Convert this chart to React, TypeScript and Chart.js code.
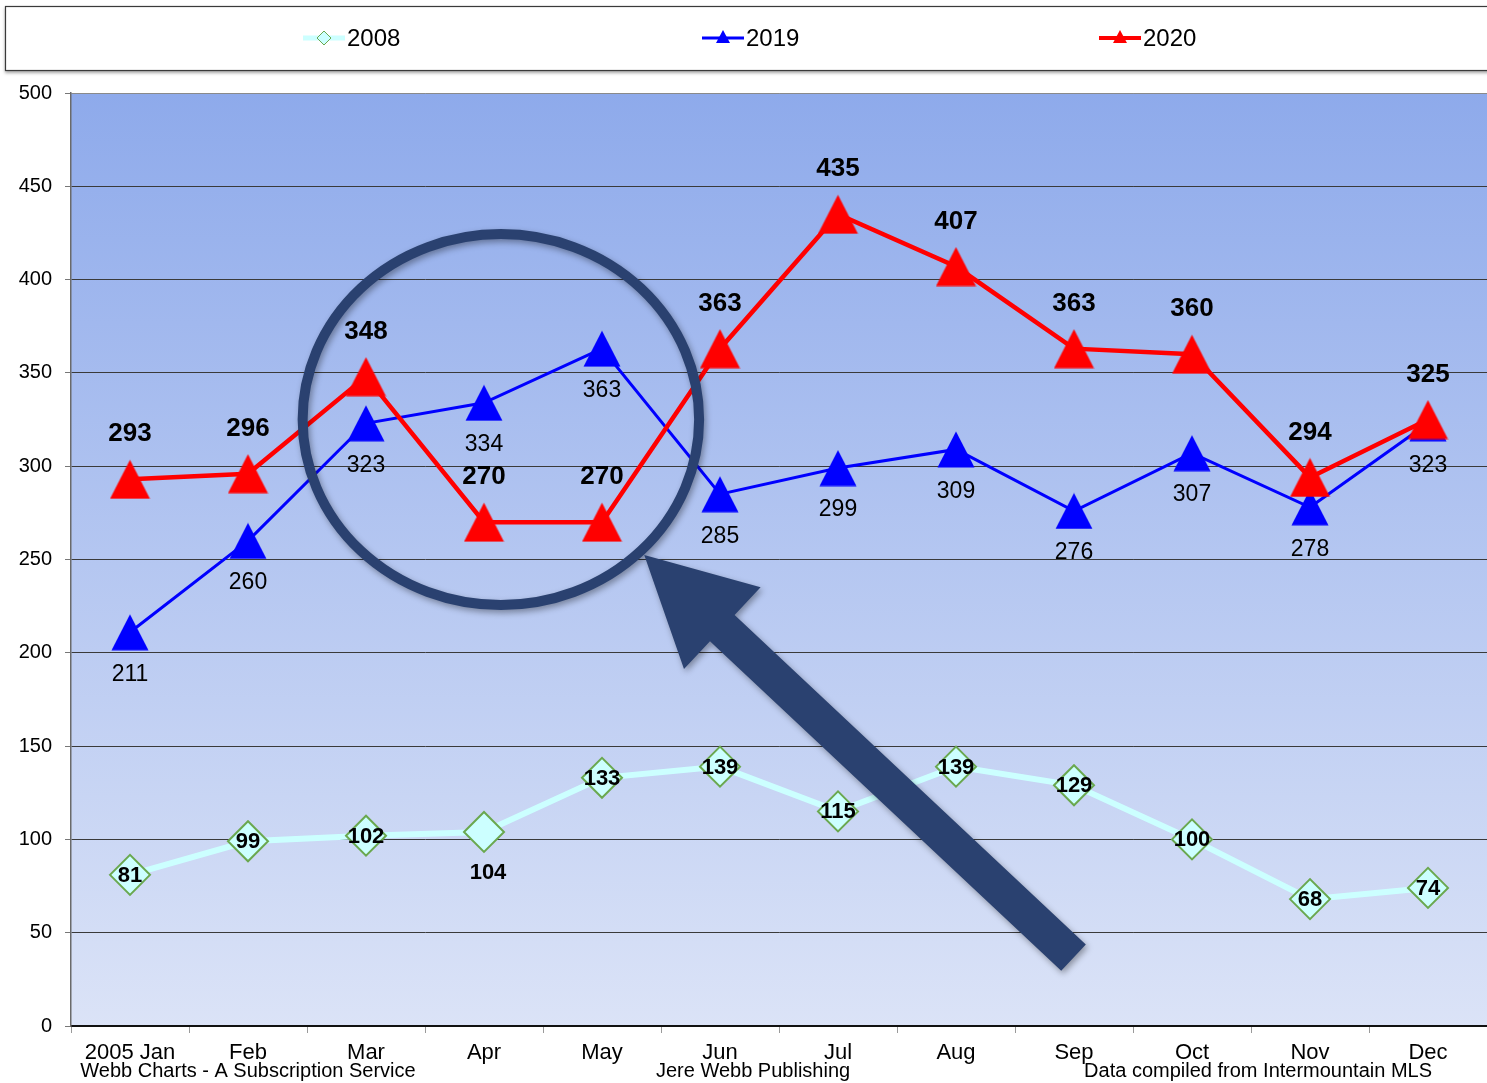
import React, { useEffect, useRef } from 'react';
import { Chart, registerables } from 'chart.js';

Chart.register(...registerables);

// ---------- data ----------
const months = ['2005 Jan', 'Feb', 'Mar', 'Apr', 'May', 'Jun', 'Jul', 'Aug', 'Sep', 'Oct', 'Nov', 'Dec'];
const values2008 = [81, 99, 102, 104, 133, 139, 115, 139, 129, 100, 68, 74];
const values2019 = [211, 260, 323, 334, 363, 285, 299, 309, 276, 307, 278, 323];
const values2020 = [293, 296, 348, 270, 270, 363, 435, 407, 363, 360, 294, 325];
const yMin = 0;
const yMax = 500;
const yStep = 50;
const seriesNames = ['2008', '2019', '2020'];
const footerNotes = ['Webb Charts - A Subscription Service', 'Jere Webb Publishing', 'Data compiled from Intermountain MLS'];
const footerAt = [1.0, 5.28, 9.56]; // category positions (fractional index)
const below2008 = [3]; // indices whose 2008 label sits below the marker

// annotation (in data units: category index / y value)
const ringCenter = { x: 3.143, y: 325 };
const ringRadius = { x: 1.68, y: 99.4 };
const arrowTip = { x: 4.358, y: 252.4 };
const arrowTail = { x: 7.996, y: 36.7 };

const FONT = "'Liberation Sans', Arial, Helvetica, sans-serif";
const NAVY = '#2a4170';
const C2008 = '#ccffff';
const G2008 = '#6aa84f';
const C2019 = '#0000ff';
const C2020 = '#ff0000';

function makeTriangle(color: string, w: number, h: number): HTMLCanvasElement {
  const c = document.createElement('canvas');
  c.width = w;
  c.height = h;
  const g = c.getContext('2d')!;
  g.fillStyle = color;
  g.beginPath();
  g.moveTo(w / 2, 0.5);
  g.lineTo(w - 0.5, h - 0.5);
  g.lineTo(0.5, h - 0.5);
  g.closePath();
  g.fill();
  return c;
}

const backgroundPlugin = {
  id: 'bgPlugin',
  beforeDraw(chart: any) {
    const { ctx, chartArea: a, width, height } = chart;
    ctx.save();
    ctx.fillStyle = '#ffffff';
    ctx.fillRect(0, 0, width, height);
    const grad = ctx.createLinearGradient(0, a.top, 0, a.bottom);
    grad.addColorStop(0, 'rgb(142,170,235)');
    grad.addColorStop(1, 'rgb(219,227,247)');
    ctx.fillStyle = grad;
    ctx.fillRect(a.left, a.top, a.right - a.left, a.bottom - a.top);

    // legend box
    ctx.shadowColor = 'rgba(0,0,0,0.35)';
    ctx.shadowBlur = 3;
    ctx.shadowOffsetX = 0;
    ctx.shadowOffsetY = 2;
    ctx.fillStyle = '#ffffff';
    ctx.fillRect(5, 6, width + 10, 65);
    ctx.shadowColor = 'transparent';
    ctx.strokeStyle = '#3a3a3a';
    ctx.lineWidth = 1.2;
    ctx.strokeRect(5.5, 6.5, width + 10, 64);
    ctx.restore();
  },
};

const legendPlugin = {
  id: 'customLegend',
  afterDraw(chart: any) {
    const ctx = chart.ctx;
    const y = 38;
    const starts = [303, 702, 1099];
    ctx.save();
    starts.forEach((sx, i) => {
      const mid = sx + 21;
      if (i === 0) {
        ctx.strokeStyle = C2008;
        ctx.lineWidth = 5;
        ctx.beginPath();
        ctx.moveTo(sx, y);
        ctx.lineTo(sx + 42, y);
        ctx.stroke();
        ctx.beginPath();
        ctx.moveTo(mid, y - 7);
        ctx.lineTo(mid + 7, y);
        ctx.lineTo(mid, y + 7);
        ctx.lineTo(mid - 7, y);
        ctx.closePath();
        ctx.fillStyle = C2008;
        ctx.fill();
        ctx.strokeStyle = G2008;
        ctx.lineWidth = 1;
        ctx.stroke();
      } else {
        const col = i === 1 ? C2019 : C2020;
        ctx.strokeStyle = col;
        ctx.lineWidth = i === 1 ? 3 : 4;
        ctx.beginPath();
        ctx.moveTo(sx, y);
        ctx.lineTo(sx + 42, y);
        ctx.stroke();
        ctx.fillStyle = col;
        ctx.beginPath();
        ctx.moveTo(mid, y - 8);
        ctx.lineTo(mid + 7, y + 5);
        ctx.lineTo(mid - 7, y + 5);
        ctx.closePath();
        ctx.fill();
      }
      ctx.fillStyle = '#000';
      ctx.font = `24px ${FONT}`;
      ctx.textAlign = 'left';
      ctx.textBaseline = 'middle';
      ctx.fillText(seriesNames[i], sx + 44, y + 1);
    });
    ctx.restore();
  },
};

const labelPlugin = {
  id: 'valueLabels',
  afterDatasetsDraw(chart: any) {
    const ctx = chart.ctx;
    ctx.save();
    ctx.textAlign = 'center';
    ctx.textBaseline = 'middle';
    ctx.fillStyle = '#000';
    chart.data.datasets.forEach((ds: any, di: number) => {
      const meta = chart.getDatasetMeta(di);
      meta.data.forEach((pt: any, i: number) => {
        const v = ds.data[i];
        let dy = 0;
        let dx = 0;
        if (ds.label === '2020') {
          ctx.font = `bold 26px ${FONT}`;
          dy = -45;
        } else if (ds.label === '2019') {
          ctx.font = `23px ${FONT}`;
          dy = 42;
        } else {
          ctx.font = `bold 22px ${FONT}`;
          const below = below2008.includes(i);
          dy = below ? 41 : 1;
          dx = below ? 4 : 0;
        }
        ctx.fillText(String(v), pt.x + dx, pt.y + dy);
      });
    });
    ctx.restore();
  },
};

const annotationPlugin = {
  id: 'annotations',
  afterDraw(chart: any) {
    const ctx = chart.ctx;
    const xs = chart.scales.x;
    const ys = chart.scales.y;
    const cx = xs.getPixelForValue(ringCenter.x);
    const cy = ys.getPixelForValue(ringCenter.y);
    const rx = xs.getPixelForValue(ringCenter.x + ringRadius.x) - cx;
    const ry = cy - ys.getPixelForValue(ringCenter.y + ringRadius.y);

    ctx.save();
    ctx.shadowColor = 'rgba(0,0,0,0.35)';
    ctx.shadowBlur = 6;
    ctx.shadowOffsetX = 2;
    ctx.shadowOffsetY = 3;
    ctx.strokeStyle = NAVY;
    ctx.lineWidth = 10;
    ctx.beginPath();
    ctx.ellipse(cx, cy, rx, ry, 0, 0, Math.PI * 2);
    ctx.stroke();

    // arrow
    const tx = xs.getPixelForValue(arrowTip.x);
    const ty = ys.getPixelForValue(arrowTip.y);
    const ex = xs.getPixelForValue(arrowTail.x);
    const ey = ys.getPixelForValue(arrowTail.y);
    const len = Math.hypot(ex - tx, ey - ty);
    const ux = (ex - tx) / len;
    const uy = (ey - ty) / len;
    const nx = -uy;
    const ny = ux;
    const HL = 107;
    const HW = 56;
    const SW = 18;
    const bx = tx + ux * HL;
    const by = ty + uy * HL;
    ctx.fillStyle = NAVY;
    ctx.beginPath();
    ctx.moveTo(tx, ty);
    ctx.lineTo(bx - nx * HW, by - ny * HW);
    ctx.lineTo(bx - nx * SW, by - ny * SW);
    ctx.lineTo(ex - nx * SW, ey - ny * SW);
    ctx.lineTo(ex + nx * SW, ey + ny * SW);
    ctx.lineTo(bx + nx * SW, by + ny * SW);
    ctx.lineTo(bx + nx * HW, by + ny * HW);
    ctx.closePath();
    ctx.fill();
    ctx.restore();

    // footer notes
    ctx.save();
    ctx.fillStyle = '#000';
    ctx.font = `20px ${FONT}`;
    ctx.textAlign = 'center';
    ctx.textBaseline = 'middle';
    footerNotes.forEach((t, i) => {
      ctx.fillText(t, xs.getPixelForValue(footerAt[i]), 1071);
    });
    ctx.restore();
  },
};

export default function App() {
  const ref = useRef<HTMLCanvasElement | null>(null);

  useEffect(() => {
    if (!ref.current) return;
    const triBlue = makeTriangle(C2019, 38, 37);
    const triRed = makeTriangle(C2020, 41, 40);
    const chart = new Chart(ref.current, {
      type: 'line',
      data: {
        labels: months,
        datasets: [
          {
            label: '2020',
            data: values2020,
            borderColor: C2020,
            borderWidth: 4.5,
            pointStyle: triRed as any,
            pointRadius: 20,
            backgroundColor: C2020,
            tension: 0,
          },
          {
            label: '2019',
            data: values2019,
            borderColor: C2019,
            borderWidth: 3,
            pointStyle: triBlue as any,
            pointRadius: 19,
            backgroundColor: C2019,
            tension: 0,
          },
          {
            label: '2008',
            data: values2008,
            borderColor: C2008,
            borderWidth: 6,
            pointStyle: 'rectRot',
            pointRadius: 20,
            pointBackgroundColor: C2008,
            pointBorderColor: G2008,
            pointBorderWidth: 2,
            backgroundColor: C2008,
            tension: 0,
          },
        ],
      },
      options: {
        animation: false,
        responsive: false,
        events: [],
        layout: { autoPadding: false, padding: { top: 93, left: 0, right: 0, bottom: 0 } },
        plugins: {
          legend: { display: false },
          tooltip: { enabled: false },
          title: { display: false },
        },
        scales: {
          x: {
            type: 'category',
            offset: true,
            grid: {
              display: true,
              drawOnChartArea: false,
              drawTicks: true,
              tickLength: 7,
              tickColor: '#9a9a9a',
              offset: true,
            },
            border: { display: true, color: '#111', width: 2 },
            ticks: {
              color: '#000',
              font: { family: FONT, size: 22 },
              padding: 7,
              maxRotation: 0,
              autoSkip: false,
            },
            afterFit(scale: any) {
              scale.height = 57;
              scale.paddingRight = 0;
              scale.paddingLeft = 0;
            },
          },
          y: {
            min: yMin,
            max: yMax,
            ticks: {
              stepSize: yStep,
              color: '#000',
              font: { family: FONT, size: 20 },
              padding: 13,
            },
            grid: {
              color: (c: any) => (c.tick && c.tick.value === yMax ? '#8a8a8a' : '#3a3a3a'),
              lineWidth: 1,
              tickLength: 6,
              tickColor: '#777',
            },
            border: { display: true, color: '#6a6a6a', width: 1.5 },
            afterFit(scale: any) {
              scale.width = 71;
            },
          },
        },
      },
      plugins: [backgroundPlugin, labelPlugin, annotationPlugin, legendPlugin],
    });
    return () => chart.destroy();
  }, []);

  return (
    <div style={{ position: 'fixed', left: 0, top: 0, width: 1487, height: 1083, background: '#fff' }}>
      <canvas ref={ref} width={1487} height={1083} style={{ display: 'block' }} />
    </div>
  );
}
